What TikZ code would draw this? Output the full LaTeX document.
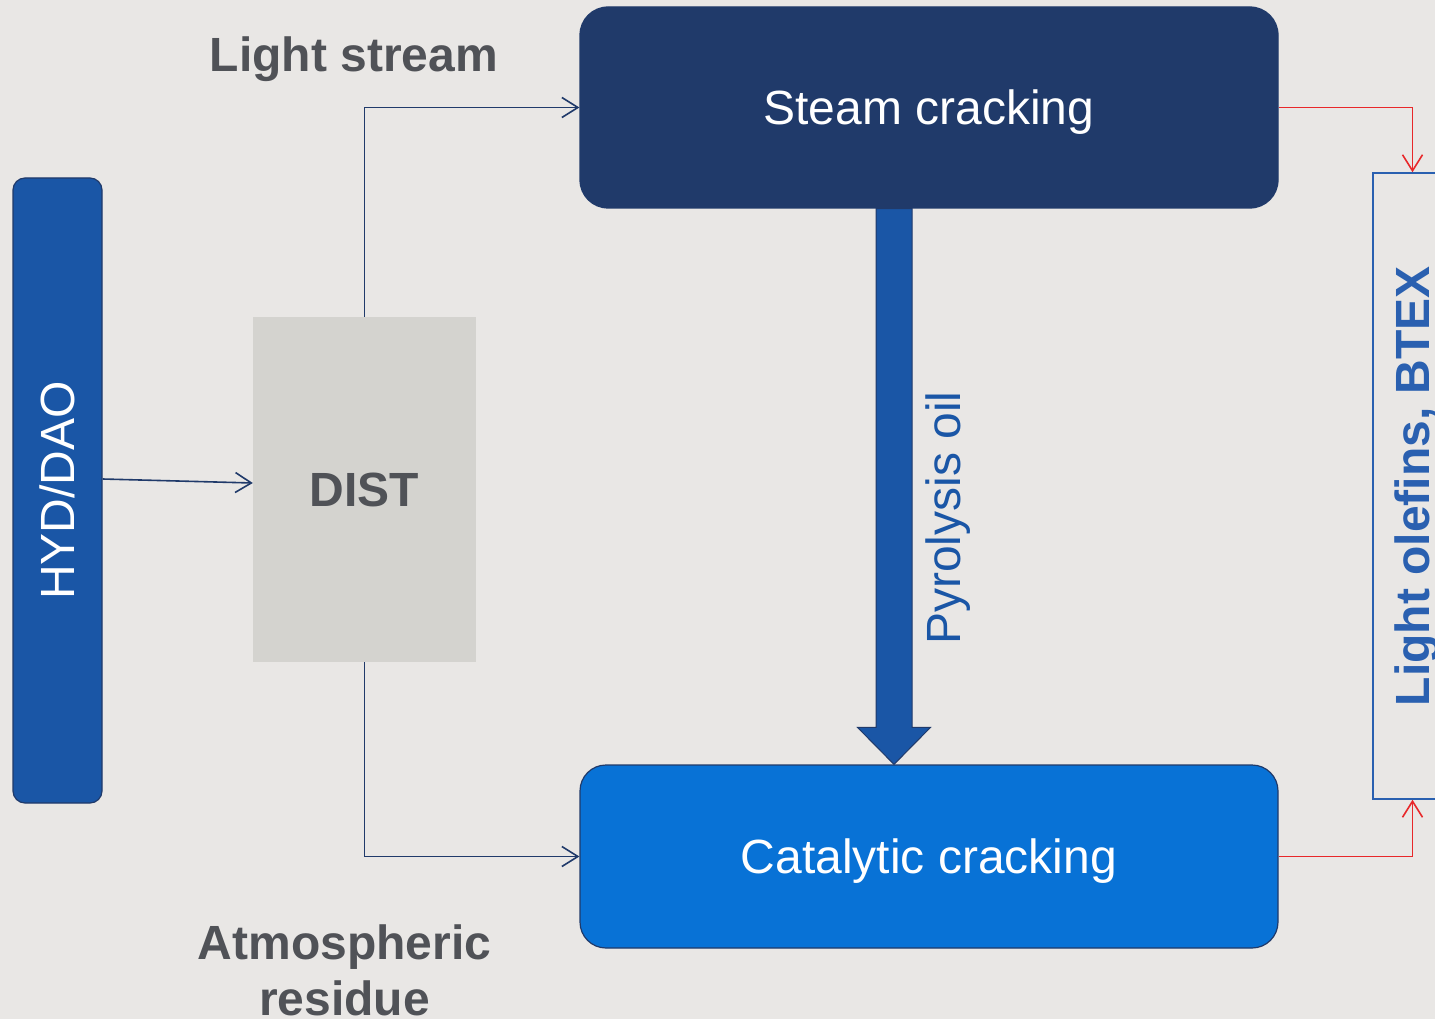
\documentclass[tikz,border=0pt]{standalone}
\usepackage{fontspec}
\setmainfont{Liberation Sans}
\usetikzlibrary{arrows.meta,positioning,calc}
\definecolor{paper}{RGB}{233,231,229}
\definecolor{navy}{RGB}{32,58,106}
\definecolor{midblue}{RGB}{26,86,166}
\definecolor{brightblue}{RGB}{8,114,214}
\definecolor{distgray}{RGB}{212,211,207}
\definecolor{textgray}{RGB}{80,82,87}
\definecolor{prodblue}{RGB}{42,96,176}
\definecolor{flowred}{RGB}{232,40,42}

\begin{document}
\begin{tikzpicture}[
  x=1pt, y=-1pt,
  big/.style={font=\fontsize{48}{56}\selectfont},
  bigbold/.style={font=\fontsize{48}{56}\selectfont\bfseries},
  unit/.style={big, draw=navy, line width=1.2pt, rounded corners=28pt, text=white, align=center, text depth=0pt},
  streamtext/.style={bigbold, text=textgray, align=center},
  flow/.style={-{Straight Barb[length=16pt,width=20pt]}, line width=1.6pt, draw=#1},
  flow/.default=navy
]
\useasboundingbox (0,0) rectangle (1435,1019);
\clip (0,0) rectangle (1435,1019);
\fill[paper] (0,0) rectangle (1435,1019);

\node[unit, fill=navy, minimum width=698pt, minimum height=201pt] (steam) at (929,107.5) {Steam cracking};
\node[unit, fill=brightblue, minimum width=698pt, minimum height=183pt, rounded corners=26pt] (cat) at (929,856.5) {Catalytic cracking};
\node[unit, fill=midblue, rotate=90, minimum width=625pt, minimum height=89pt, rounded corners=12pt] (feed) at (57.5,490.5) {HYD/DAO};
\node[bigbold, fill=distgray, text=textgray, minimum width=223pt, minimum height=345pt, text depth=0pt] (dist) at (364.5,489.5) {DIST};
\node[bigbold, draw=prodblue, line width=1.5pt, rotate=90, text=prodblue, minimum width=626pt, minimum height=79pt, text depth=0pt] (prod) at (1412.5,486) {Light olefins, BTEX};

\node[streamtext, anchor=base] (lightlbl) at (354,72) {Light stream};
\node[streamtext] (reslbl) at (344.5,970) {Atmospheric\\residue};
\node[big, rotate=90, anchor=base, text=midblue] (pyrlbl) at (960,518) {Pyrolysis oil};

\coordinate (pyrtop) at ([xshift=-35pt]steam.south);
\coordinate (pyrtip) at (pyrtop |- cat.north);
\filldraw[fill=midblue, draw=navy, line width=1pt]
  ($(pyrtop)+(-18,0)$) -- ($(pyrtip)+(-18,-37)$) -- ($(pyrtip)+(-36.5,-37)$) -- (pyrtip)
  -- ($(pyrtip)+(36.5,-37)$) -- ($(pyrtip)+(18,-37)$) -- ($(pyrtop)+(18,0)$) -- cycle;

\draw[flow] ([yshift=11.5pt]feed.south) -- ([yshift=6.5pt]dist.west);
\draw[flow] (dist.north) |- (steam.west);
\draw[flow] (dist.south) |- (cat.west);
\draw[flow=flowred] (steam.east) -| (prod.east);
\draw[flow=flowred] (cat.east) -| (prod.west);
\end{tikzpicture}
\end{document}
